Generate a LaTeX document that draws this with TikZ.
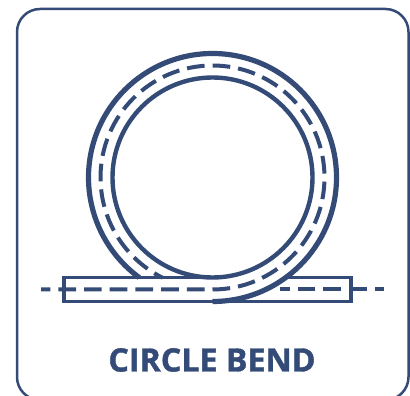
\documentclass[tikz,border=0pt]{standalone}
\usepackage{fontspec}
\setmainfont{Open Sans}
\newfontfamily\titlefont[BoldFeatures={FakeBold=1.2}]{Open Sans}
\definecolor{bendblue}{HTML}{344B78}
\tikzset{
  frameline/.style={draw=bendblue, line width=2.5pt, rounded corners=23pt},
  outerline/.style={draw=bendblue, line width=5.2pt},
  innerline/.style={draw=bendblue, line width=4.4pt},
  rectline/.style={draw=bendblue, line width=3.8pt},
  centreline/.style={draw=bendblue, line width=4pt, dash pattern=on 17.7pt off 8pt, dash phase=8.4pt},
}
\begin{document}
\begin{tikzpicture}[x=1pt, y=1pt]
  \useasboundingbox (0,0) rectangle (410,396);
  \clip (0,0) rectangle (410,396);
  % Outer frame
  \draw[frameline] (17,-4) rectangle (408.5,387);
  % Named points
  \coordinate (centre) at (212.5,218.5);
  \coordinate (leftend) at (41,106.5);
  \coordinate (tangent) at (212.5,106.5);
  \coordinate (rightend) at (384,106.5);
  \coordinate (rightstop) at (279.5,106.5);
  % Ring walls
  \draw[innerline] (centre) circle[radius=100];
  \draw[outerline] (212.5,94.5) arc[start angle=-90, end angle=233.8, radius=124];
  % Fibre rectangle
  \draw[rectline] (285.8,118.5) -- (351,118.5) -- (351,94.5) -- (64,94.5) -- (64,118.5) -- (212.5,118.5);
  % Dashed centre lines
  \draw[centreline] (leftend) -- (tangent) arc[start angle=-90, end angle=243.5, radius=112];
  \draw[centreline] (rightend) -- (rightstop);
  % Label
  \node[text=bendblue, font=\fontsize{32.2}{32.2}\selectfont\titlefont\bfseries] (title) at (212,36) {CIRCLE BEND};
\end{tikzpicture}
\end{document}
